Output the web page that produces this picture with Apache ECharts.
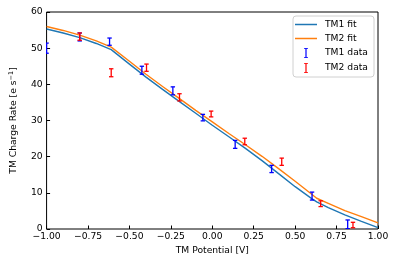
<!DOCTYPE html>
<html>
<head>
<meta charset="utf-8">
<script src="https://cdn.jsdelivr.net/npm/echarts@6/dist/echarts.min.js"></script>
<style>
html,body{margin:0;padding:0;background:#fff;}
#chart{width:396px;height:263px;}
</style>
</head>
<body>
<div id="chart"></div>
<script>
// ---- data ----
var fitX   = [-1.0, -0.9, -0.8, -0.7, -0.61, -0.5, -0.4, -0.3, -0.2, -0.1, 0.0, 0.1, 0.2, 0.3, 0.4, 0.5, 0.6, 0.63, 0.7, 0.8, 0.9, 1.0];
var tm1Fit = [55.3, 54.2, 52.9, 51.3, 49.6, 45.6, 42.0, 38.6, 35.3, 32.0, 28.7, 25.5, 22.3, 18.9, 15.3, 11.7, 8.4, 7.5, 5.9, 3.9, 2.1, 0.4];
var tm2Fit = [56.0, 54.9, 53.6, 52.0, 50.3, 46.4, 42.8, 39.4, 36.1, 32.8, 29.6, 26.4, 23.3, 20.1, 16.7, 13.2, 9.6, 8.5, 7.1, 5.1, 3.4, 1.7];

var tm1X   = [-1.0, -0.8, -0.62, -0.425, -0.238, -0.057, 0.138, 0.358, 0.602, 0.817];
var tm1Y   = [50.0, 53.1, 51.8, 43.9, 38.2, 30.8, 23.4, 16.6, 9.1, 1.3];
var tm1Err = [1.4, 1.1, 1.0, 1.1, 1.1, 0.9, 1.1, 1.0, 1.1, 1.2];

var tm2X   = [-0.8, -0.61, -0.397, -0.198, -0.007, 0.196, 0.419, 0.654, 0.849];
var tm2Y   = [53.2, 43.2, 44.6, 36.4, 31.8, 24.2, 18.6, 7.0, 1.1];
var tm2Err = [1.0, 1.1, 1.0, 1.0, 0.8, 0.9, 1.0, 0.8, 0.75];

var xTicks = [-1.0, -0.75, -0.5, -0.25, 0.0, 0.25, 0.5, 0.75, 1.0];
var yTicks = [0, 10, 20, 30, 40, 50, 60];

// ---- build ----
function pairs(xs, ys) { return xs.map(function (x, i) { return [x, ys[i]]; }); }
function errData(xs, ys, es) { return xs.map(function (x, i) { return [x, ys[i], es[i]]; }); }

function errRender(color) {
  return function (params, api) {
    var x = api.value(0), y = api.value(1), e = api.value(2);
    var top = api.coord([x, y + e]);
    var bot = api.coord([x, y - e]);
    var cap = 2.2;
    var st = { stroke: color, lineWidth: 1.3 };
    return {
      type: 'group',
      children: [
        { type: 'line', shape: { x1: top[0], y1: top[1], x2: bot[0], y2: bot[1] }, style: st },
        { type: 'line', shape: { x1: top[0] - cap, y1: top[1], x2: top[0] + cap, y2: top[1] }, style: st },
        { type: 'line', shape: { x1: bot[0] - cap, y1: bot[1], x2: bot[0] + cap, y2: bot[1] }, style: st }
      ]
    };
  };
}

var FONT = 'DejaVu Sans';
var FS = 9.2;
var errIcon = 'path://M0,0 L4,0 L4,0.8 L2.6,0.8 L2.6,9.2 L4,9.2 L4,10 L0,10 L0,9.2 L1.4,9.2 L1.4,0.8 L0,0.8 Z';
var lineIcon = 'path://M0,0 L22,0 L22,1.5 L0,1.5 Z';

var chart = echarts.init(document.getElementById('chart'), null, { renderer: 'canvas' });
chart.setOption({
  animation: false,
  backgroundColor: '#fff',
  textStyle: { fontFamily: FONT },
  grid: { left: 43, right: 18, top: 12, bottom: 34, show: true, borderColor: '#000', borderWidth: 1, backgroundColor: 'transparent' },
  legend: {
    orient: 'vertical',
    right: 22,
    top: 16,
    padding: [4, 6, 4, 2],
    itemWidth: 22,
    itemHeight: 10,
    itemGap: 5,
    symbolKeepAspect: true,
    backgroundColor: 'rgba(255,255,255,0.8)',
    borderColor: '#d0d0d0',
    borderWidth: 1,
    borderRadius: 3,
    textStyle: { fontFamily: FONT, fontSize: FS, color: '#000', padding: [0, 0, 0, 3] },
    data: [
      { name: 'TM1 fit', icon: lineIcon, itemStyle: { color: '#1f77b4' } },
      { name: 'TM2 fit', icon: lineIcon, itemStyle: { color: '#ff7f0e' } },
      { name: 'TM1 data', icon: errIcon, itemStyle: { color: '#0000ff' } },
      { name: 'TM2 data', icon: errIcon, itemStyle: { color: '#ff0000' } }
    ]
  },
  xAxis: {
    type: 'value',
    min: xTicks[0],
    max: xTicks[xTicks.length - 1],
    interval: 0.25,
    name: 'TM Potential [V]',
    nameLocation: 'middle',
    nameGap: 17,
    nameTextStyle: { fontFamily: FONT, fontSize: FS, color: '#000' },
    axisLine: { show: false, onZero: false },
    axisTick: { show: true, inside: true, length: 3.5, lineStyle: { color: '#000', width: 1 } },
    splitLine: { show: false },
    axisLabel: {
      margin: 3, fontFamily: FONT, fontSize: FS, color: '#000',
      formatter: function (v) { return (v < 0 ? '\u2212' : '') + Math.abs(v).toFixed(2); }
    }
  },
  yAxis: {
    type: 'value',
    min: yTicks[0],
    max: yTicks[yTicks.length - 1],
    interval: 10,
    name: 'TM Charge Rate [e s{sup|\u22121}]',
    nameLocation: 'middle',
    nameGap: 24,
    nameTextStyle: {
      fontFamily: FONT, fontSize: FS, color: '#000', lineHeight: 12,
      rich: { sup: { fontFamily: FONT, fontSize: 6.5, color: '#000', verticalAlign: 'top', lineHeight: 12 } }
    },
    axisLine: { show: false, onZero: false },
    axisTick: { show: true, inside: true, length: 3.5, lineStyle: { color: '#000', width: 1 } },
    splitLine: { show: false },
    axisLabel: { margin: 4, fontFamily: FONT, fontSize: FS, color: '#000' }
  },
  series: [
    {
      name: 'TM1 fit', type: 'line', data: pairs(fitX, tm1Fit), symbol: 'none',
      lineStyle: { color: '#1f77b4', width: 1.4 }, itemStyle: { color: '#1f77b4' }, z: 2
    },
    {
      name: 'TM2 fit', type: 'line', data: pairs(fitX, tm2Fit), symbol: 'none',
      lineStyle: { color: '#ff7f0e', width: 1.4 }, itemStyle: { color: '#ff7f0e' }, z: 2
    },
    {
      name: 'TM1 data', type: 'custom', data: errData(tm1X, tm1Y, tm1Err),
      renderItem: errRender('#0000ff'), itemStyle: { color: '#0000ff' }, clip: true, z: 3
    },
    {
      name: 'TM2 data', type: 'custom', data: errData(tm2X, tm2Y, tm2Err),
      renderItem: errRender('#ff0000'), itemStyle: { color: '#ff0000' }, clip: true, z: 3
    }
  ]
});
</script>
</body>
</html>
